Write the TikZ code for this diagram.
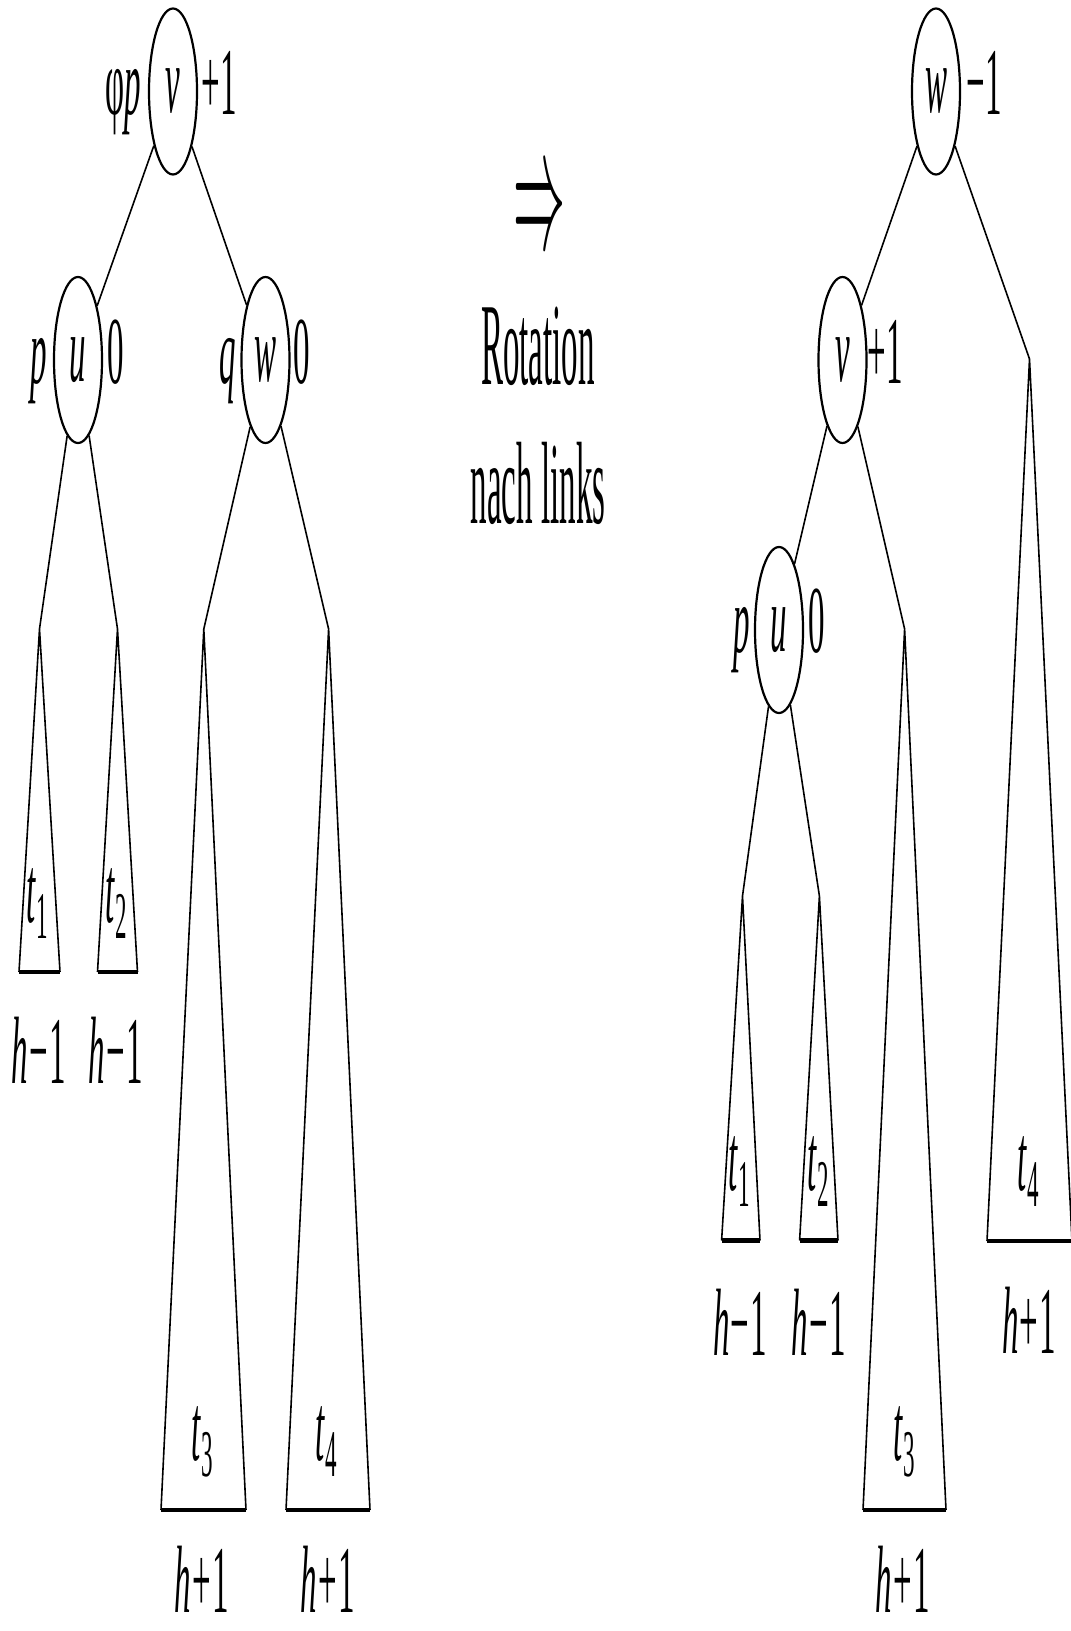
\documentclass[tikz,border=0pt]{standalone}
\usepackage{fontspec}
\setmainfont{Liberation Serif}
\usetikzlibrary{shapes.geometric}
\newcommand{\lb}[1]{\scalebox{1}[2.9]{#1}}
\newcommand{\mt}[1]{\scalebox{1}[3.55]{#1}}
\newcommand{\sbs}[1]{\raisebox{-2.8pt}{\fontsize{11.5}{12}\selectfont #1}}
\newcommand{\hm}{\textit{h}\kern0.6pt−\kern0.6pt1}
\newcommand{\hp}{\textit{h}\kern0.6pt+\kern0.6pt1}
\begin{document}
\begin{tikzpicture}[x=0.5pt,y=-0.5pt,
  every node/.style={font=\fontsize{16.5}{18}\selectfont, inner sep=0pt},
  nd/.style={ellipse, draw, line width=1.1pt, minimum width=24pt, minimum height=83pt, inner sep=0pt},
  lab/.style={anchor=base},
  edge/.style={line width=0.8pt},
  side/.style={line width=0.8pt},
  base/.style={line width=2.4pt}]
\useasboundingbox (0,0) rectangle (1070,1631);

% ---------- left tree ----------
\node[nd] (v1) at (173,91.5) {\lb{\textit{v}}};
\node[lab] (v1l) at (123,115) {\lb{φ\textit{p}}};
\node[lab] (v1r) at (219,115) {\lb{+1}};

\node[nd] (u1) at (78,360) {\lb{\textit{u}}};
\node[lab] (u1l) at (39,383) {\lb{\textit{p}}};
\node[lab] (u1r) at (116,383) {\lb{0}};

\node[nd] (w1) at (265.5,360) {\lb{\textit{w}}};
\node[lab] (w1l) at (228,383) {\lb{\textit{q}}};
\node[lab] (w1r) at (302,383) {\lb{0}};

\draw[edge] (v1) -- (u1);
\draw[edge] (v1) -- (w1);

\coordinate (a1) at (39.5,629);
\coordinate (b1l) at (19,972);
\coordinate (b1r) at (60,972);
\coordinate (a2) at (117.5,629);
\coordinate (b2l) at (97.5,972);
\coordinate (b2r) at (137.5,972);
\coordinate (a3) at (203.8,629);
\coordinate (b3l) at (161,1510);
\coordinate (b3r) at (246,1510);
\coordinate (a4) at (328.6,629);
\coordinate (b4l) at (286,1510);
\coordinate (b4r) at (370,1510);

\draw[edge] (u1) -- (a1);
\draw[edge] (u1) -- (a2);
\draw[edge] (w1) -- (a3);
\draw[edge] (w1) -- (a4);

\draw[side] (b1l) -- (a1) -- (b1r);
\draw[base] (b1l) -- (b1r);
\draw[side] (b2l) -- (a2) -- (b2r);
\draw[base] (b2l) -- (b2r);
\draw[side] (b3l) -- (a3) -- (b3r);
\draw[base] (b3l) -- (b3r);
\draw[side] (b4l) -- (a4) -- (b4r);
\draw[base] (b4l) -- (b4r);

\node[lab] (t1) at (37.5,922) {\lb{\textit{t}\sbs{1}}};
\node[lab] (t2) at (116,922) {\lb{\textit{t}\sbs{2}}};
\node[lab] (t3) at (202,1460) {\lb{\textit{t}\sbs{3}}};
\node[lab] (t4) at (326,1460) {\lb{\textit{t}\sbs{4}}};

\node[lab] (h1) at (39,1083) {\lb{\hm}};
\node[lab] (h2) at (116,1083) {\lb{\hm}};
\node[lab] (h3) at (202,1612) {\lb{\hp}};
\node[lab] (h4) at (328,1612) {\lb{\hp}};

% ---------- middle ----------
\node (arr) at (539,215) {\resizebox{26pt}{32pt}{$\Rightarrow$}};
\node[lab] (rot) at (538,385) {\mt{Rotation}};
\node[lab] (nach) at (538,523) {\mt{nach links}};

% ---------- right tree ----------
\node[nd] (w2) at (936,91.5) {\lb{\textit{w}}};
\node[lab] (w2r) at (984,115) {\lb{−1}};

\node[nd] (v2) at (842.5,360) {\lb{\textit{v}}};
\node[lab] (v2r) at (885.5,383) {\lb{+1}};

\node[nd] (u2) at (779,630) {\lb{\textit{u}}};
\node[lab] (u2l) at (742,652) {\lb{\textit{p}}};
\node[lab] (u2r) at (817,652) {\lb{0}};

\coordinate (c4) at (1029.5,359);
\coordinate (d4l) at (987,1241);
\coordinate (d4r) at (1072,1241);
\coordinate (c3) at (904.6,629);
\coordinate (d3l) at (863,1510);
\coordinate (d3r) at (946,1510);
\coordinate (c1) at (742.5,896);
\coordinate (d1l) at (721.6,1240.5);
\coordinate (d1r) at (760,1240.5);
\coordinate (c2) at (819.4,896);
\coordinate (d2l) at (799.6,1240.5);
\coordinate (d2r) at (838,1240.5);

\draw[edge] (w2) -- (v2);
\draw[edge] (w2) -- (c4);
\draw[edge] (v2) -- (u2);
\draw[edge] (v2) -- (c3);
\draw[edge] (u2) -- (c1);
\draw[edge] (u2) -- (c2);

\draw[side] (d4l) -- (c4) -- (d4r);
\draw[base] (d4l) -- (d4r);
\draw[side] (d3l) -- (c3) -- (d3r);
\draw[base] (d3l) -- (d3r);
\draw[side] (d1l) -- (c1) -- (d1r);
\draw[base] (d1l) -- (d1r);
\draw[side] (d2l) -- (c2) -- (d2r);
\draw[base] (d2l) -- (d2r);

\node[lab] (rt1) at (739.5,1190) {\lb{\textit{t}\sbs{1}}};
\node[lab] (rt2) at (818,1190) {\lb{\textit{t}\sbs{2}}};
\node[lab] (rt3) at (904,1460) {\lb{\textit{t}\sbs{3}}};
\node[lab] (rt4) at (1028,1190) {\lb{\textit{t}\sbs{4}}};

\node[lab] (rh1) at (740,1355) {\lb{\hm}};
\node[lab] (rh2) at (818.5,1355) {\lb{\hm}};
\node[lab] (rh3) at (902.5,1612) {\lb{\hp}};
\node[lab] (rh4) at (1029,1353) {\lb{\hp}};
\end{tikzpicture}
\end{document}
